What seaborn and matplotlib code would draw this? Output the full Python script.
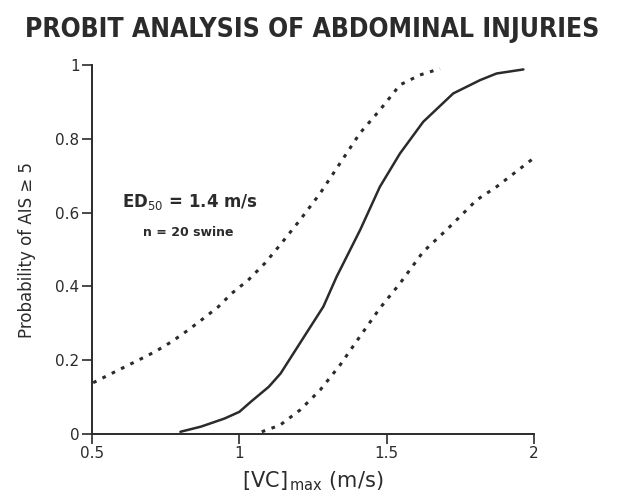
import matplotlib
matplotlib.use("Agg")
import matplotlib.pyplot as plt
import seaborn as sns
import pandas as pd

# ---- data ----
fit_x = [0.80, 0.87, 0.95, 1.00, 1.04, 1.10, 1.14, 1.22, 1.285, 1.33, 1.376, 1.41, 1.477, 1.545, 1.624, 1.726, 1.817, 1.873, 1.964]
fit_y = [0.006, 0.020, 0.042, 0.060, 0.088, 0.128, 0.164, 0.264, 0.345, 0.426, 0.499, 0.553, 0.670, 0.760, 0.846, 0.923, 0.959, 0.977, 0.988]

upper_x = [0.504, 0.589, 0.657, 0.714, 0.770, 0.827, 0.878, 0.929, 0.974, 1.030, 1.087, 1.138, 1.206, 1.274, 1.342, 1.409, 1.477, 1.545, 1.613, 1.681]
upper_y = [0.139, 0.173, 0.200, 0.223, 0.250, 0.282, 0.313, 0.345, 0.381, 0.417, 0.463, 0.512, 0.580, 0.652, 0.734, 0.815, 0.878, 0.946, 0.973, 0.990]

lower_x = [1.076, 1.138, 1.206, 1.274, 1.342, 1.409, 1.477, 1.545, 1.624, 1.703, 1.760, 1.805, 1.873, 1.998]
lower_y = [0.006, 0.024, 0.065, 0.119, 0.187, 0.264, 0.341, 0.408, 0.494, 0.553, 0.598, 0.634, 0.670, 0.747]

x_ticks = [0.5, 1, 1.5, 2]
x_tick_labels = ["0.5", "1", "1.5", "2"]
y_ticks = [0, 0.2, 0.4, 0.6, 0.8, 1]
y_tick_labels = ["0", "0.2", "0.4", "0.6", "0.8", "1"]

title = "PROBIT ANALYSIS OF ABDOMINAL INJURIES"
ann1 = r"ED$_{50}$ = 1.4 m/s"
ann2 = "n = 20 swine"

fit_df = pd.DataFrame({"x": fit_x, "y": fit_y})
up_df = pd.DataFrame({"x": upper_x, "y": upper_y})
lo_df = pd.DataFrame({"x": lower_x, "y": lower_y})

sns.set_theme(style="ticks")
plt.rcParams["font.family"] = ["DejaVu Sans"]

ink = "#2b2b2b"
fig = plt.figure(figsize=(6.26, 5.03), dpi=100)
ax = fig.add_axes([92/626, 1-434/503, (534-92)/626, (434-65)/503])

sns.lineplot(data=fit_df, x="x", y="y", ax=ax, color=ink, linewidth=1.8, sort=False)
sns.lineplot(data=up_df, x="x", y="y", ax=ax, color=ink, linewidth=2.2, sort=False,
             linestyle=(0, (1.2, 2.2)))
sns.lineplot(data=lo_df, x="x", y="y", ax=ax, color=ink, linewidth=2.2, sort=False,
             linestyle=(0, (1.2, 2.2)))

ax.set_xlim(0.5, 2)
ax.set_ylim(0, 1)
ax.set_xticks(x_ticks)
ax.set_xticklabels(x_tick_labels, fontsize=11, color=ink)
ax.set_yticks(y_ticks)
ax.set_yticklabels(y_tick_labels, fontsize=11, color=ink)
ax.tick_params(direction="out", length=7, width=1.2, colors=ink, pad=2)
sns.despine(ax=ax)
for s in ("left", "bottom"):
    ax.spines[s].set_color(ink)
    ax.spines[s].set_linewidth(1.4)

ax.set_xlabel(r"[VC]$_{\,\mathrm{max}}$ (m/s)", fontsize=15, color=ink, labelpad=6)
ax.set_ylabel("Probability of AIS \u2265 5", fontsize=12, color=ink, labelpad=14)

fig.text(312/626, 1-30/503, title, ha="center", va="center", fontsize=19,
         fontweight="bold", color=ink, fontstretch="condensed")

fig.text(122/626, 1-202/503, ann1, ha="left", va="center", fontsize=12,
         fontweight="bold", color=ink)
fig.text(143/626, 1-233/503, ann2, ha="left", va="center", fontsize=9,
         fontweight="bold", color=ink)

fig.savefig("out.png", dpi=100, facecolor="white")
